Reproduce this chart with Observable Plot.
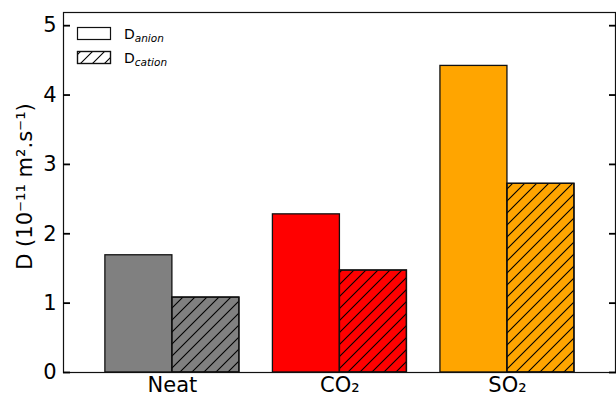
<!DOCTYPE html>
<html>
<head>
<meta charset="utf-8">
<script src="https://cdn.jsdelivr.net/npm/d3@7"></script>
<script src="https://cdn.jsdelivr.net/npm/@observablehq/plot@0.6"></script>
<style>
  html, body { margin: 0; padding: 0; background: #fff; }
  #chart { width: 616px; height: 396px; }
</style>
</head>
<body>
<div id="chart"></div>
<script>
const categories = ["Neat", "CO₂", "SO₂"];
const anionValues = [1.69, 2.28, 4.42];
const cationValues = [1.08, 1.47, 2.72];
const barColors = ["#808080", "#ff0000", "#ffa500"];
const yTicks = [0, 1, 2, 3, 4, 5];
const yLabel = "D (10⁻¹¹ m².s⁻¹)";

const rows = [];
categories.forEach((c, i) => {
  rows.push({i, cat: c, series: "anion", value: anionValues[i], color: barColors[i]});
  rows.push({i, cat: c, series: "cation", value: cationValues[i], color: barColors[i]});
});
const halfW = 0.4;
const x1 = d => d.i + (d.series === "anion" ? -halfW : 0);
const x2 = d => d.i + (d.series === "anion" ? 0 : halfW);
const cationRows = rows.filter(d => d.series === "cation");

const plot = Plot.plot({
  width: 616,
  height: 396,
  marginLeft: 63,
  marginRight: 1,
  marginTop: 12,
  marginBottom: 24,
  style: {fontFamily: "DejaVu Sans, sans-serif", fontSize: "21px", background: "#fff", color: "#000"},
  x: {domain: [-0.65, 2.645], axis: null},
  y: {domain: [0, 5.19], axis: null},
  color: {type: "identity"},
  marks: [
    Plot.rectY(rows, {x1, x2, y1: 0, y2: "value", fill: "color", stroke: "#111", strokeWidth: 1.3}),
    Plot.rectY(cationRows, {x1, x2, y1: 0, y2: "value", fill: "url(#hatch)", stroke: "#111", strokeWidth: 1.3}),
    Plot.frame({stroke: "#111", strokeWidth: 1.2}),
    Plot.axisY({anchor: "left", ticks: yTicks, tickSize: 0, tickPadding: 7, tickFormat: d => String(d), label: null}),
    Plot.axisY({anchor: "left", ticks: yTicks, tickSize: 7, dx: 7, tickFormat: () => "", label: null, strokeWidth: 1.8}),
    Plot.axisY({anchor: "right", ticks: yTicks, tickSize: 7, dx: -7, tickFormat: () => "", label: null, strokeWidth: 1.8}),
    Plot.axisX({ticks: categories.map((_, i) => i), tickFormat: i => categories[i], tickSize: 0, tickPadding: 5, label: null}),
    Plot.text([yLabel], {frameAnchor: "left", rotate: -90, dx: -38, dy: -6, text: d => d, fontSize: 21, lineAnchor: "middle", textAnchor: "middle"})
  ]
});

document.getElementById("chart").appendChild(plot);

// hatch pattern + legend
const svg = d3.select(plot);
const defs = svg.insert("defs", ":first-child");
const pat = defs.append("pattern")
  .attr("id", "hatch")
  .attr("patternUnits", "userSpaceOnUse")
  .attr("width", 12).attr("height", 12);
pat.append("path")
  .attr("d", "M-3,3 L3,-3 M0,12 L12,0 M9,15 L15,9")
  .attr("stroke", "#000").attr("stroke-width", 1.1).attr("fill", "none");

const legendItems = [
  {sub: "anion", hatch: false},
  {sub: "cation", hatch: true}
];
const lg = svg.append("g").attr("font-family", "DejaVu Sans, sans-serif").attr("text-anchor", "start");
legendItems.forEach((it, k) => {
  const y0 = 27 + k * 24;
  lg.append("rect").attr("x", 77.5).attr("y", y0 + 0.5).attr("width", 33).attr("height", 12)
    .attr("fill", "#fff").attr("stroke", "#111").attr("stroke-width", 1.2);
  if (it.hatch) {
    lg.append("rect").attr("x", 77.5).attr("y", y0 + 0.5).attr("width", 33).attr("height", 12)
      .attr("fill", "url(#hatch)").attr("stroke", "#111").attr("stroke-width", 1.2);
  }
  const t = lg.append("text").attr("x", 124).attr("y", y0 + 12).attr("font-size", 14).attr("fill", "#000");
  t.append("tspan").text("D");
  t.append("tspan").attr("dy", 3).attr("font-size", 10.5).attr("font-style", "italic").text(it.sub);
});
</script>
</body>
</html>
